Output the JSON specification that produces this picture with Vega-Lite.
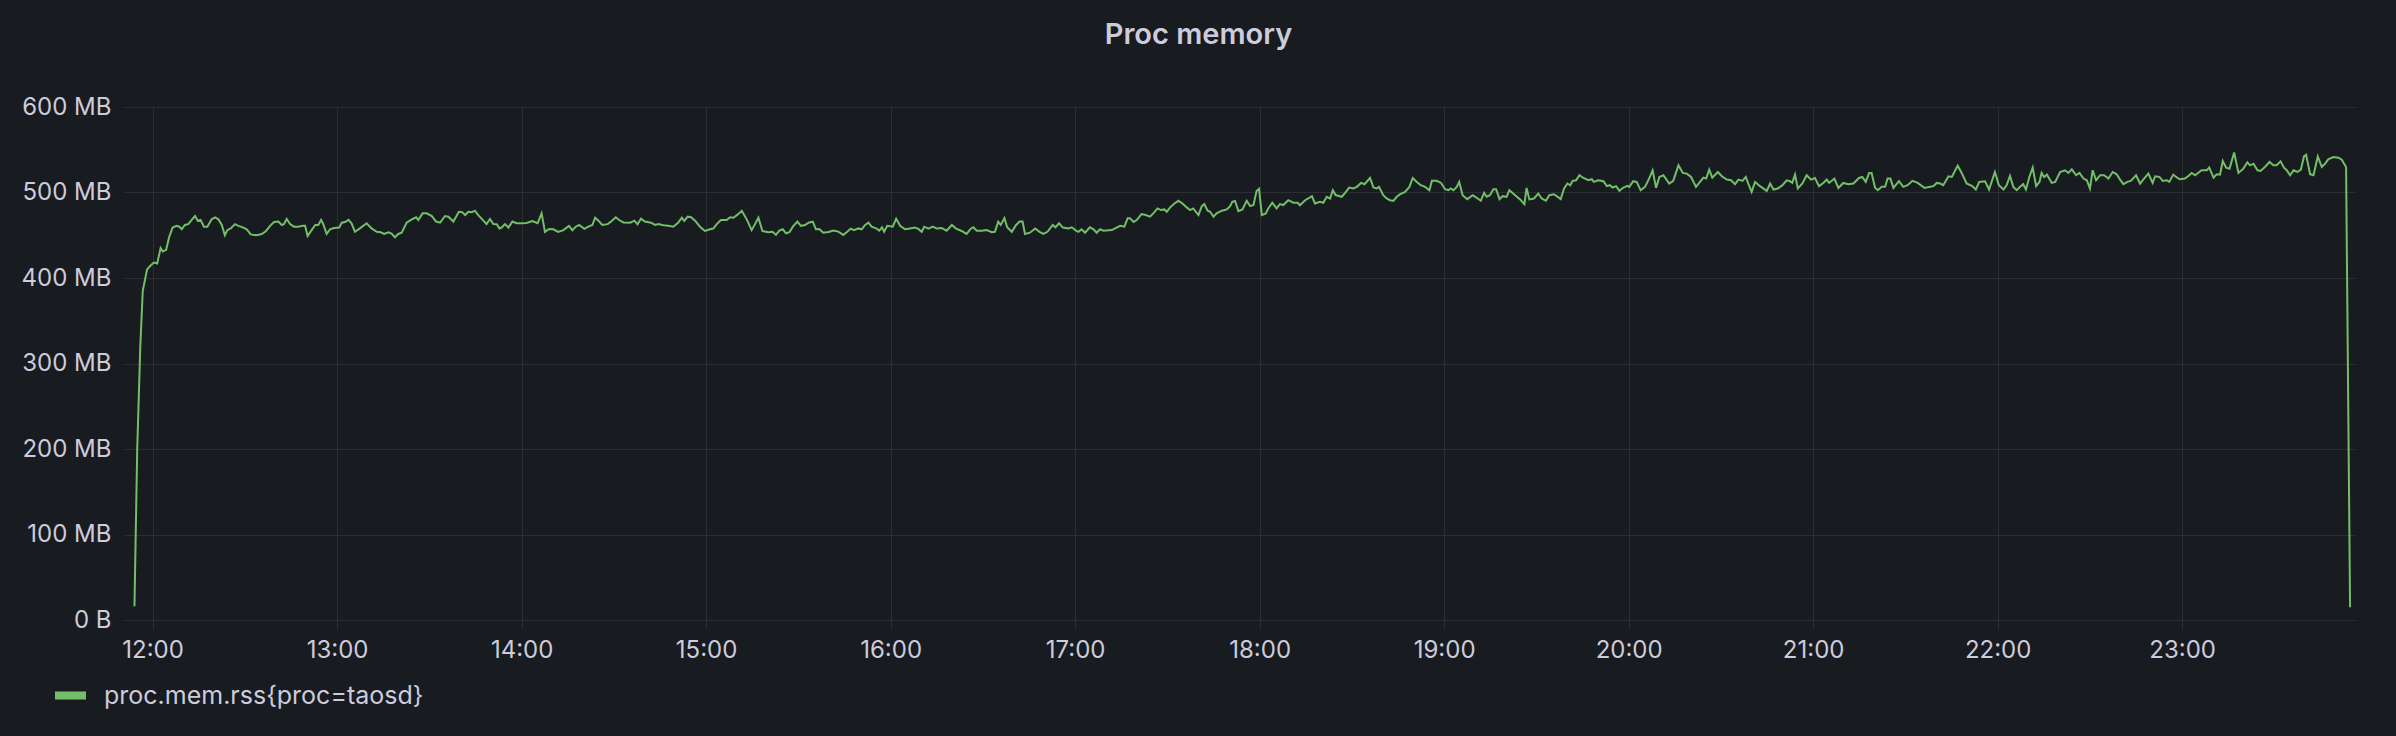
{
"$schema": "https://vega.github.io/schema/vega-lite/v6.json",
"width": 2231, "height": 513,
"autosize": {"type": "none"},
"padding": {"left": 124, "top": 107, "right": 41, "bottom": 116},
"background": "#181b1f",
"title": {"text": "Proc memory", "color": "#ccccdc", "fontSize": 29, "fontWeight": 600, "font": "Inter", "anchor": "middle", "frame": "group", "dx": -41, "offset": 45},
"data": {"values": [
{"t":714.1,"v":16},{"t":715.0,"v":200},{"t":716.0,"v":320},{"t":716.8,"v":385},{"t":718.2,"v":410},{"t":719.2,"v":414},{"t":720.4,"v":418},{"t":721.5,"v":417},{"t":722.6,"v":435},{"t":723.3,"v":431},{"t":724.4,"v":433},{"t":725.4,"v":448},{"t":726.5,"v":459},{"t":727.8,"v":461},{"t":728.7,"v":460},{"t":729.5,"v":457},{"t":730.5,"v":462},{"t":731.6,"v":463},{"t":732.7,"v":468},{"t":733.8,"v":472.5},{"t":734.7,"v":467},{"t":735.6,"v":468},{"t":736.7,"v":460},{"t":737.8,"v":460},{"t":739.2,"v":468.6},{"t":740.3,"v":471},{"t":741.4,"v":468.6},{"t":742.5,"v":462},{"t":743.5,"v":450},{"t":744.3,"v":456},{"t":745.4,"v":458},{"t":746.8,"v":463},{"t":747.9,"v":461},{"t":749.5,"v":459},{"t":750.6,"v":457},{"t":751.9,"v":451},{"t":753.8,"v":450},{"t":755.5,"v":451.5},{"t":756.9,"v":455},{"t":758.2,"v":461},{"t":759.5,"v":465.5},{"t":760.9,"v":466},{"t":762.0,"v":462},{"t":762.7,"v":463},{"t":763.6,"v":469},{"t":764.7,"v":463},{"t":766.0,"v":460},{"t":767.4,"v":460},{"t":768.8,"v":461},{"t":769.6,"v":461},{"t":770.4,"v":449},{"t":771.7,"v":456},{"t":772.9,"v":462},{"t":773.9,"v":462},{"t":774.8,"v":468},{"t":775.5,"v":463},{"t":776.6,"v":451.5},{"t":777.7,"v":457},{"t":779.0,"v":458.5},{"t":780.7,"v":459},{"t":781.5,"v":464.7},{"t":782.6,"v":465.5},{"t":783.7,"v":468},{"t":784.7,"v":464},{"t":785.8,"v":454},{"t":787.4,"v":458},{"t":789.6,"v":464},{"t":791.2,"v":458},{"t":792.9,"v":454},{"t":794.2,"v":453.5},{"t":795.3,"v":451.5},{"t":796.7,"v":453.5},{"t":797.7,"v":452},{"t":798.8,"v":447.7},{"t":799.9,"v":451.5},{"t":801.0,"v":453},{"t":802.6,"v":464.7},{"t":804.3,"v":468.6},{"t":805.7,"v":471},{"t":806.4,"v":467.8},{"t":807.8,"v":475.6},{"t":809.1,"v":475.6},{"t":810.8,"v":472.5},{"t":812.2,"v":466},{"t":813.5,"v":464.7},{"t":815.1,"v":472.5},{"t":816.2,"v":471.7},{"t":817.8,"v":466},{"t":819.6,"v":477.5},{"t":820.7,"v":477},{"t":821.6,"v":473.6},{"t":822.7,"v":477.5},{"t":823.8,"v":477},{"t":824.8,"v":478.7},{"t":825.9,"v":473.6},{"t":827.2,"v":468.6},{"t":828.6,"v":463},{"t":829.7,"v":469},{"t":830.8,"v":463},{"t":831.9,"v":462.8},{"t":832.8,"v":458},{"t":833.5,"v":459},{"t":834.6,"v":463},{"t":835.7,"v":459},{"t":837.0,"v":466},{"t":838.4,"v":464},{"t":840.0,"v":464},{"t":841.6,"v":464.3},{"t":843.5,"v":466.7},{"t":845.2,"v":464},{"t":846.5,"v":475.6},{"t":847.6,"v":453.9},{"t":848.9,"v":457.4},{"t":850.3,"v":457},{"t":851.9,"v":453.9},{"t":853.6,"v":456},{"t":855.4,"v":461},{"t":856.5,"v":456},{"t":857.6,"v":460},{"t":858.7,"v":462},{"t":860.4,"v":457.4},{"t":861.7,"v":460},{"t":863.0,"v":462},{"t":863.9,"v":470.5},{"t":865.0,"v":467},{"t":866.2,"v":462},{"t":868.0,"v":463},{"t":869.3,"v":466.7},{"t":870.6,"v":471},{"t":871.7,"v":467.8},{"t":873.1,"v":465},{"t":875.3,"v":464.7},{"t":876.7,"v":467},{"t":877.7,"v":462.8},{"t":878.8,"v":469.4},{"t":880.1,"v":466},{"t":882.1,"v":464.7},{"t":883.4,"v":462},{"t":884.5,"v":463},{"t":886.1,"v":461.6},{"t":887.7,"v":461},{"t":889.3,"v":460},{"t":890.9,"v":464.7},{"t":892.1,"v":470.5},{"t":892.9,"v":466.7},{"t":894.0,"v":471.7},{"t":895.1,"v":471},{"t":896.4,"v":467},{"t":898.0,"v":460},{"t":899.6,"v":455},{"t":901.3,"v":457},{"t":902.4,"v":458},{"t":903.4,"v":462.8},{"t":904.8,"v":467.8},{"t":906.7,"v":467.8},{"t":907.8,"v":471},{"t":908.9,"v":470.5},{"t":910.3,"v":474.4},{"t":911.6,"v":478.7},{"t":913.2,"v":468.6},{"t":914.8,"v":456},{"t":915.9,"v":463},{"t":917.0,"v":470.5},{"t":918.3,"v":455},{"t":920.2,"v":453.5},{"t":921.6,"v":454},{"t":922.7,"v":450.4},{"t":923.8,"v":455.4},{"t":924.9,"v":457},{"t":926.0,"v":452.3},{"t":927.1,"v":453.5},{"t":928.2,"v":460},{"t":929.7,"v":466},{"t":930.8,"v":461},{"t":932.2,"v":462},{"t":933.3,"v":464.7},{"t":934.7,"v":466},{"t":935.7,"v":457},{"t":936.8,"v":457.4},{"t":938.1,"v":453},{"t":939.8,"v":453.9},{"t":941.4,"v":455.4},{"t":943.0,"v":454.3},{"t":944.6,"v":450.4},{"t":945.9,"v":454},{"t":947.0,"v":457.8},{"t":948.1,"v":456},{"t":949.5,"v":458},{"t":950.6,"v":457},{"t":951.7,"v":462},{"t":952.8,"v":464.7},{"t":953.8,"v":460},{"t":955.3,"v":458},{"t":956.3,"v":455.4},{"t":957.2,"v":459.3},{"t":957.9,"v":454},{"t":958.9,"v":461},{"t":960.7,"v":460},{"t":961.8,"v":469.4},{"t":963.1,"v":461},{"t":964.7,"v":457},{"t":966.3,"v":458},{"t":967.9,"v":459},{"t":969.0,"v":457.4},{"t":970.1,"v":454},{"t":970.9,"v":460},{"t":972.3,"v":457.8},{"t":973.7,"v":460},{"t":975.0,"v":457.8},{"t":976.6,"v":458.5},{"t":978.2,"v":455.4},{"t":979.9,"v":462},{"t":981.3,"v":457.8},{"t":983.1,"v":455},{"t":984.7,"v":451.5},{"t":986.0,"v":457.4},{"t":986.9,"v":459.3},{"t":988.0,"v":455.4},{"t":989.6,"v":455.4},{"t":991.2,"v":456},{"t":992.9,"v":453.5},{"t":993.9,"v":454},{"t":995.0,"v":466},{"t":995.8,"v":462},{"t":997.0,"v":470},{"t":997.9,"v":459.3},{"t":999.4,"v":454},{"t":1000.8,"v":462},{"t":1001.9,"v":466},{"t":1002.9,"v":466},{"t":1003.7,"v":451.5},{"t":1005.3,"v":453},{"t":1007.0,"v":458},{"t":1008.4,"v":454},{"t":1009.7,"v":451.5},{"t":1011.0,"v":454},{"t":1012.7,"v":462},{"t":1013.6,"v":459.3},{"t":1014.8,"v":464},{"t":1016.0,"v":459},{"t":1017.8,"v":458},{"t":1018.9,"v":459.3},{"t":1020.3,"v":455.4},{"t":1021.1,"v":454},{"t":1022.1,"v":457},{"t":1023.2,"v":453},{"t":1024.8,"v":459.3},{"t":1026.0,"v":457},{"t":1027.0,"v":453},{"t":1028.1,"v":457},{"t":1029.2,"v":455.4},{"t":1031.9,"v":456},{"t":1033.5,"v":459},{"t":1034.6,"v":461},{"t":1036.0,"v":460},{"t":1037.1,"v":470},{"t":1037.8,"v":470},{"t":1039.0,"v":465.5},{"t":1040.0,"v":467.8},{"t":1041.6,"v":474.8},{"t":1042.9,"v":473.6},{"t":1044.4,"v":471.7},{"t":1045.4,"v":475.6},{"t":1046.8,"v":481.4},{"t":1047.9,"v":479.5},{"t":1049.0,"v":480.2},{"t":1049.8,"v":477.5},{"t":1050.9,"v":482.6},{"t":1052.3,"v":487.2},{"t":1053.6,"v":490.3},{"t":1054.9,"v":487.2},{"t":1056.3,"v":482.6},{"t":1057.4,"v":479.5},{"t":1058.4,"v":481.4},{"t":1060.1,"v":473.6},{"t":1061.2,"v":484.1},{"t":1062.0,"v":486.4},{"t":1063.1,"v":478.7},{"t":1063.9,"v":477.5},{"t":1065.0,"v":471.7},{"t":1066.0,"v":475.6},{"t":1067.7,"v":478.7},{"t":1069.3,"v":480.2},{"t":1070.4,"v":484.1},{"t":1071.1,"v":489},{"t":1072.0,"v":490},{"t":1073.1,"v":478.3},{"t":1074.4,"v":480.2},{"t":1075.8,"v":490.3},{"t":1076.9,"v":484.1},{"t":1078.0,"v":485.3},{"t":1079.0,"v":501.6},{"t":1079.8,"v":504.3},{"t":1080.7,"v":473.6},{"t":1082.0,"v":475.6},{"t":1082.8,"v":481.4},{"t":1084.1,"v":488},{"t":1085.5,"v":481.4},{"t":1086.6,"v":486.4},{"t":1087.7,"v":485.3},{"t":1089.3,"v":491},{"t":1091.0,"v":488},{"t":1092.4,"v":488},{"t":1093.1,"v":485},{"t":1094.8,"v":491},{"t":1095.8,"v":493},{"t":1097.0,"v":495.7},{"t":1098.0,"v":487.2},{"t":1099.6,"v":489.1},{"t":1100.7,"v":488},{"t":1101.8,"v":495},{"t":1102.9,"v":493},{"t":1103.8,"v":502.7},{"t":1104.7,"v":497},{"t":1106.7,"v":495},{"t":1107.8,"v":499.6},{"t":1109.1,"v":505.8},{"t":1110.5,"v":504.7},{"t":1111.6,"v":506.6},{"t":1113.0,"v":511.2},{"t":1114.1,"v":509.7},{"t":1115.9,"v":517},{"t":1117.0,"v":505.8},{"t":1118.1,"v":504.7},{"t":1118.8,"v":506.6},{"t":1120.2,"v":496.9},{"t":1121.3,"v":493},{"t":1122.4,"v":491},{"t":1123.5,"v":490.3},{"t":1124.6,"v":495},{"t":1125.7,"v":498},{"t":1127.3,"v":500.8},{"t":1128.7,"v":506.6},{"t":1129.8,"v":517},{"t":1131.1,"v":512.4},{"t":1132.4,"v":508.5},{"t":1133.8,"v":506.6},{"t":1135.2,"v":502.7},{"t":1136.0,"v":513.6},{"t":1137.6,"v":513.6},{"t":1139.0,"v":511.2},{"t":1140.3,"v":503.9},{"t":1141.4,"v":502.7},{"t":1142.1,"v":504.7},{"t":1143.0,"v":502.7},{"t":1144.1,"v":506.6},{"t":1144.9,"v":512.4},{"t":1146.0,"v":496.9},{"t":1147.5,"v":492.2},{"t":1149.3,"v":496.9},{"t":1150.6,"v":493.8},{"t":1151.9,"v":490.3},{"t":1153.0,"v":499.6},{"t":1153.8,"v":495},{"t":1154.9,"v":496.9},{"t":1156.0,"v":503.9},{"t":1156.9,"v":503.9},{"t":1158.0,"v":492.2},{"t":1159.0,"v":495.7},{"t":1160.3,"v":495},{"t":1161.2,"v":502.7},{"t":1163.1,"v":496.9},{"t":1164.7,"v":491.9},{"t":1166.1,"v":486.4},{"t":1166.8,"v":505.4},{"t":1167.7,"v":491.9},{"t":1169.2,"v":493},{"t":1170.6,"v":498.8},{"t":1171.7,"v":493},{"t":1173.1,"v":490.3},{"t":1174.2,"v":496.9},{"t":1175.7,"v":498},{"t":1176.6,"v":495.7},{"t":1177.9,"v":492.2},{"t":1179.0,"v":504.7},{"t":1180.1,"v":510.5},{"t":1181.0,"v":508.5},{"t":1181.8,"v":513.6},{"t":1182.9,"v":514.3},{"t":1184.0,"v":520.2},{"t":1185.3,"v":517},{"t":1186.9,"v":514.3},{"t":1188.0,"v":515.5},{"t":1188.7,"v":512.4},{"t":1190.1,"v":514.3},{"t":1191.8,"v":513.2},{"t":1192.9,"v":507.4},{"t":1193.9,"v":508.5},{"t":1194.8,"v":505.8},{"t":1195.9,"v":507.4},{"t":1197.0,"v":501.9},{"t":1198.3,"v":505.8},{"t":1199.6,"v":507.8},{"t":1200.2,"v":506.6},{"t":1201.5,"v":513.2},{"t":1202.6,"v":512.4},{"t":1203.9,"v":502.7},{"t":1205.3,"v":506.6},{"t":1206.4,"v":514.3},{"t":1207.8,"v":526},{"t":1208.9,"v":505.4},{"t":1210.0,"v":518.2},{"t":1211.3,"v":520.2},{"t":1213.2,"v":510.5},{"t":1214.5,"v":513.6},{"t":1216.2,"v":531.8},{"t":1217.6,"v":522.9},{"t":1218.9,"v":522.1},{"t":1220.3,"v":518.2},{"t":1221.9,"v":506.6},{"t":1223.2,"v":512.4},{"t":1224.3,"v":517.4},{"t":1225.2,"v":516.3},{"t":1226.2,"v":526.7},{"t":1227.2,"v":517.4},{"t":1229.0,"v":524},{"t":1230.3,"v":519},{"t":1231.9,"v":515.1},{"t":1233.3,"v":514.3},{"t":1234.6,"v":509.7},{"t":1235.7,"v":515.1},{"t":1237.0,"v":513.6},{"t":1238.1,"v":518.2},{"t":1238.9,"v":510.5},{"t":1240.0,"v":500.8},{"t":1241.1,"v":512.4},{"t":1242.7,"v":507.4},{"t":1244.9,"v":501.9},{"t":1246.0,"v":510.5},{"t":1247.1,"v":503.5},{"t":1248.5,"v":504.7},{"t":1250.0,"v":508.5},{"t":1251.4,"v":514.3},{"t":1252.5,"v":513.2},{"t":1253.2,"v":511.2},{"t":1254.1,"v":520.9},{"t":1255.0,"v":504.7},{"t":1256.5,"v":510.5},{"t":1257.9,"v":520.2},{"t":1259.3,"v":515.1},{"t":1260.6,"v":517},{"t":1261.9,"v":507.4},{"t":1263.3,"v":511.2},{"t":1264.4,"v":515.1},{"t":1265.2,"v":511.2},{"t":1266.9,"v":516.3},{"t":1268.2,"v":505.4},{"t":1269.8,"v":511.2},{"t":1271.4,"v":509.7},{"t":1273.1,"v":510.5},{"t":1274.9,"v":517},{"t":1276.0,"v":518.2},{"t":1277.1,"v":512.4},{"t":1278.2,"v":522.9},{"t":1279.0,"v":522.9},{"t":1280.1,"v":505.8},{"t":1281.0,"v":502.7},{"t":1282.3,"v":506.6},{"t":1283.4,"v":506.6},{"t":1284.2,"v":516.3},{"t":1285.1,"v":516.3},{"t":1286.1,"v":505.4},{"t":1287.9,"v":513.2},{"t":1289.3,"v":506.6},{"t":1290.7,"v":508.5},{"t":1292.3,"v":513.6},{"t":1294.0,"v":511.2},{"t":1296.2,"v":505.4},{"t":1298.0,"v":506.6},{"t":1299.1,"v":507.4},{"t":1300.2,"v":511.2},{"t":1301.3,"v":510.5},{"t":1302.3,"v":508.5},{"t":1304.0,"v":519},{"t":1305.1,"v":518.2},{"t":1307.0,"v":531.4},{"t":1308.3,"v":522.9},{"t":1309.9,"v":510.5},{"t":1311.6,"v":507.8},{"t":1312.9,"v":503.5},{"t":1314.0,"v":512.4},{"t":1315.9,"v":513.2},{"t":1317.2,"v":503.5},{"t":1319.1,"v":524},{"t":1320.4,"v":508.5},{"t":1321.9,"v":503.5},{"t":1322.9,"v":508.5},{"t":1324.0,"v":519.4},{"t":1325.1,"v":506.6},{"t":1326.2,"v":502.7},{"t":1327.3,"v":506.6},{"t":1328.3,"v":509.7},{"t":1329.2,"v":503.5},{"t":1330.3,"v":518.2},{"t":1331.4,"v":529.1},{"t":1332.5,"v":507.4},{"t":1333.6,"v":512.4},{"t":1334.3,"v":522.9},{"t":1335.1,"v":518.2},{"t":1336.0,"v":520.9},{"t":1337.6,"v":511.2},{"t":1338.7,"v":512.4},{"t":1340.3,"v":524},{"t":1341.9,"v":526},{"t":1343.0,"v":522.9},{"t":1344.1,"v":527.1},{"t":1345.5,"v":520.2},{"t":1346.6,"v":522.9},{"t":1347.9,"v":516.3},{"t":1349.0,"v":514.3},{"t":1350.0,"v":504.7},{"t":1350.9,"v":526},{"t":1352.0,"v":514.3},{"t":1353.3,"v":520.2},{"t":1354.6,"v":520.2},{"t":1356.0,"v":516.3},{"t":1357.4,"v":524},{"t":1358.7,"v":521.3},{"t":1359.8,"v":515.1},{"t":1360.9,"v":509.7},{"t":1362.2,"v":512.4},{"t":1363.3,"v":513.6},{"t":1365.0,"v":520.2},{"t":1366.3,"v":510.5},{"t":1367.6,"v":516.3},{"t":1369.0,"v":522.1},{"t":1370.4,"v":511.2},{"t":1371.2,"v":519},{"t":1372.6,"v":518.2},{"t":1373.7,"v":513.6},{"t":1375.0,"v":514.3},{"t":1375.8,"v":512.4},{"t":1377.1,"v":520.9},{"t":1379.1,"v":515.5},{"t":1380.9,"v":516.3},{"t":1382.0,"v":519.4},{"t":1383.1,"v":522.9},{"t":1384.2,"v":520.2},{"t":1386.3,"v":526},{"t":1388.0,"v":526},{"t":1388.8,"v":529.1},{"t":1390.2,"v":517.4},{"t":1391.2,"v":521.3},{"t":1392.3,"v":520.9},{"t":1393.2,"v":536.8},{"t":1394.3,"v":529.1},{"t":1395.4,"v":527.9},{"t":1396.9,"v":546.9},{"t":1398.3,"v":522.9},{"t":1399.9,"v":527.9},{"t":1401.2,"v":535.3},{"t":1402.1,"v":531.8},{"t":1403.2,"v":533.7},{"t":1404.5,"v":526},{"t":1405.5,"v":525.2},{"t":1406.9,"v":529.8},{"t":1408.4,"v":535.7},{"t":1409.7,"v":531.8},{"t":1410.7,"v":531.8},{"t":1412.0,"v":536.4},{"t":1413.1,"v":529.1},{"t":1414.0,"v":526},{"t":1415.1,"v":520.2},{"t":1416.2,"v":526},{"t":1417.5,"v":524},{"t":1418.6,"v":526.7},{"t":1419.6,"v":542.2},{"t":1420.3,"v":544.2},{"t":1421.6,"v":521.3},{"t":1422.7,"v":520.2},{"t":1424.1,"v":542.2},{"t":1425.4,"v":529.8},{"t":1426.5,"v":533.7},{"t":1427.5,"v":538.8},{"t":1429.2,"v":541.5},{"t":1430.8,"v":540.7},{"t":1431.9,"v":538.4},{"t":1433.3,"v":529.8},{"t":1434.6,"v":15}
]},
"mark": {"type": "line", "strokeWidth": 2, "interpolate": "linear"},
"encoding": {
  "x": {"field": "t", "type": "quantitative",
    "scale": {"domain": [710.7, 1436.2], "nice": false, "zero": false},
    "axis": {"title": null, "values": [720, 780, 840, 900, 960, 1020, 1080, 1140, 1200, 1260, 1320, 1380],
      "labelExpr": "floor(datum.value/60) + ':00'", "grid": true, "gridColor": "#2b2f33", "gridWidth": 1,
      "ticks": true, "tickColor": "#2b2f33", "tickSize": 9, "domain": false,
      "labelColor": "#ccccdc", "labelFont": "Inter", "labelFontSize": 24, "labelPadding": 9,
      "labelFlush": false, "labelOverlap": false}},
  "y": {"field": "v", "type": "quantitative",
    "scale": {"domain": [0, 600], "nice": false},
    "axis": {"title": null, "values": [0, 100, 200, 300, 400, 500, 600],
      "labelExpr": "datum.value == 0 ? '0 B' : datum.value + ' MB'", "grid": true, "gridColor": "#2b2f33", "gridWidth": 1,
      "ticks": false, "domain": false, "labelColor": "#ccccdc", "labelFont": "Inter", "labelFontSize": 24,
      "labelPadding": 13, "labelFlush": false, "labelOverlap": false}},
  "color": {"datum": "proc.mem.rss{proc=taosd}", "type": "nominal",
    "scale": {"range": ["#73bf69"]},
    "legend": {"title": null, "orient": "none", "legendX": -69, "legendY": 573, "padding": 0,
      "symbolType": "M-1,-0.26H1V0.26H-1Z", "symbolSize": 961,
      "labelColor": "#ccccdc", "labelFont": "Inter", "labelFontSize": 25, "labelOffset": 18, "labelLimit": 0,
      "encode": {"symbols": {"update": {"fill": {"value": "#73bf69"}, "stroke": {"value": "#73bf69"}, "strokeWidth": {"value": 0}, "opacity": {"value": 1}}}}}}
},
"config": {"view": {"stroke": null}, "font": "Inter"}
}
